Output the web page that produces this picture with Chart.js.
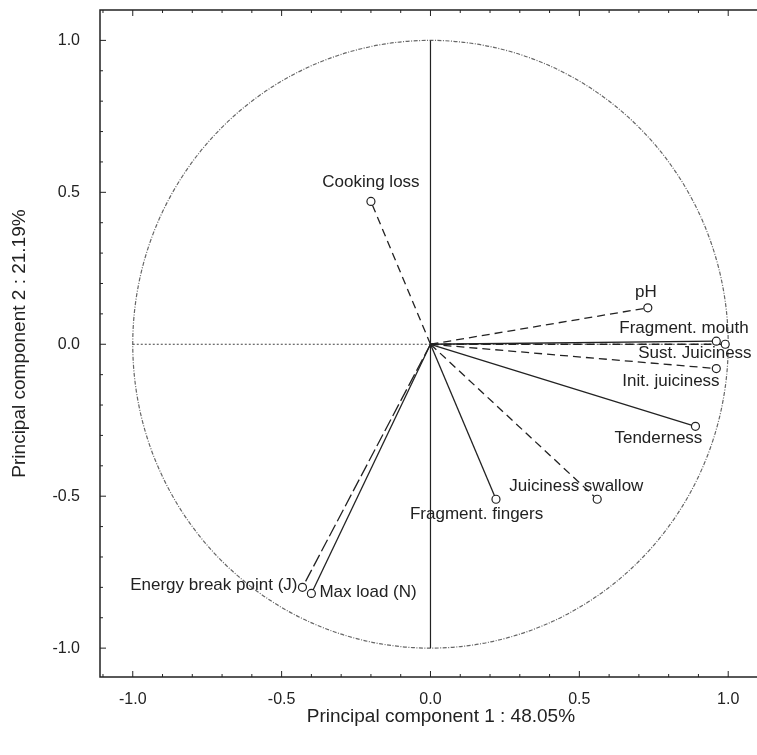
<!DOCTYPE html>
<html>
<head>
<meta charset="utf-8">
<script src="https://cdn.jsdelivr.net/npm/chart.js@4.4.1/dist/chart.umd.min.js"></script>
<style>
  html, body { margin: 0; padding: 0; background: #fff; overflow: hidden; }
  /* the original figure is cropped on the right, so the canvas runs past the window */
  #wrap { width: 757px; height: 755px; overflow: hidden; }
</style>
</head>
<body>
<div id="wrap"><canvas id="pcaChart" width="787" height="755"></canvas></div>
<script>
// loadings
const variables = [
  "Cooking loss", "pH", "Fragment. mouth", "Sust. Juiciness", "Init. juiciness",
  "Tenderness", "Juiciness swallow", "Fragment. fingers", "Energy break point (J)", "Max load (N)"
];
const pc1 = [-0.20, 0.73, 0.96, 0.99, 0.96, 0.89, 0.56, 0.22, -0.43, -0.40];
const pc2 = [0.47, 0.12, 0.01, 0.00, -0.08, -0.27, -0.51, -0.51, -0.80, -0.82];

const axisTicks = [-1.0, -0.5, 0.0, 0.5, 1.0];
const minorTicks = [-1.1, -1.0, -0.9, -0.8, -0.7, -0.6, -0.5, -0.4, -0.3, -0.2, -0.1, 0.0,
                    0.1, 0.2, 0.3, 0.4, 0.5, 0.6, 0.7, 0.8, 0.9, 1.0, 1.1];

const xTitle = "Principal component 1 : 48.05%";
const yTitle = "Principal component 2 : 21.19%";

// which vectors are dashed
const dashedVars = ["Cooking loss", "pH", "Sust. Juiciness", "Init. juiciness",
                    "Juiciness swallow", "Energy break point (J)"];

// where each label sits relative to its point (pixels)
const labelPlace = {
  "Cooking loss": { dx: 0, dy: -19, align: "center" },
  "pH": { dx: -2, dy: -15, align: "center" },
  "Fragment. mouth": { dx: -97, dy: -13, align: "left" },
  "Sust. Juiciness": { dx: -87, dy: 9, align: "left" },
  "Init. juiciness": { dx: -94, dy: 13, align: "left" },
  "Tenderness": { dx: -81, dy: 12, align: "left" },
  "Juiciness swallow": { dx: -88, dy: -13, align: "left" },
  "Fragment. fingers": { dx: -86, dy: 15, align: "left" },
  "Energy break point (J)": { dx: -5, dy: -2, align: "right" },
  "Max load (N)": { dx: 8, dy: -1, align: "left" }
};

const FONT = '"Liberation Sans", Arial, sans-serif';
const INK = "#222";

// one line dataset per variable, origin -> loading
const datasets = variables.map((name, i) => {
  const dashed = dashedVars.includes(name);
  return {
    label: name,
    data: [{ x: 0, y: 0 }, { x: pc1[i], y: pc2[i] }],
    borderColor: INK,
    borderWidth: 1.3,
    borderDash: dashed ? (name === "Energy break point (J)" ? [13, 4] : [8, 5]) : [],
    pointRadius: [0, 4],
    pointBackgroundColor: "#fff",
    pointBorderColor: INK,
    pointBorderWidth: 1.2,
    showLine: true,
    fill: false,
    tension: 0
  };
});

// unit circle, zero lines and frame with inward ticks
const decorPlugin = {
  id: "decor",
  beforeDatasetsDraw(chart) {
    const { ctx, scales: { x, y } } = chart;
    const cx = x.getPixelForValue(0), cy = y.getPixelForValue(0);
    const rx = x.getPixelForValue(1) - cx, ry = cy - y.getPixelForValue(1);
    ctx.save();
    // circle
    ctx.strokeStyle = "#666";
    ctx.lineWidth = 1.2;
    ctx.setLineDash([4, 1.5, 1, 1.5]);
    ctx.beginPath();
    ctx.ellipse(cx, cy, rx, ry, 0, 0, Math.PI * 2);
    ctx.stroke();
    // horizontal dotted zero line
    ctx.strokeStyle = "#444";
    ctx.lineWidth = 1;
    ctx.setLineDash([2, 2]);
    ctx.beginPath();
    ctx.moveTo(x.getPixelForValue(-1), cy);
    ctx.lineTo(x.getPixelForValue(1), cy);
    ctx.stroke();
    // vertical solid zero line
    ctx.setLineDash([]);
    ctx.strokeStyle = INK;
    ctx.lineWidth = 1.2;
    ctx.beginPath();
    ctx.moveTo(cx, y.getPixelForValue(1));
    ctx.lineTo(cx, y.getPixelForValue(-1));
    ctx.stroke();
    ctx.restore();
  },
  afterDatasetsDraw(chart) {
    const { ctx, scales: { x, y } } = chart;
    ctx.save();
    ctx.fillStyle = INK;
    ctx.font = "17px " + FONT;
    ctx.textBaseline = "middle";
    variables.forEach((name, i) => {
      const p = labelPlace[name];
      ctx.textAlign = p.align;
      ctx.fillText(name, x.getPixelForValue(pc1[i]) + p.dx, y.getPixelForValue(pc2[i]) + p.dy);
    });
    ctx.restore();
  },
  afterDraw(chart) {
    const { ctx, chartArea: a, scales: { x, y } } = chart;
    ctx.save();
    ctx.strokeStyle = INK;
    ctx.lineWidth = 1.5;
    ctx.strokeRect(a.left, a.top, a.right - a.left, a.bottom - a.top);
    ctx.lineWidth = 1;
    minorTicks.forEach(v => {
      const major = axisTicks.some(t => Math.abs(t - v) < 1e-9);
      const len = major ? 6 : 3;
      const px = x.getPixelForValue(v);
      ctx.beginPath();
      ctx.moveTo(px, a.bottom); ctx.lineTo(px, a.bottom - len);
      ctx.moveTo(px, a.top); ctx.lineTo(px, a.top + len);
      ctx.stroke();
      const py = y.getPixelForValue(v);
      if (py > a.top && py < a.bottom) {
        ctx.beginPath();
        ctx.moveTo(a.left, py); ctx.lineTo(a.left + len, py);
        ctx.stroke();
      }
    });
    ctx.restore();
  }
};

function fixedTicks(scale) {
  scale.ticks = axisTicks.map(v => ({ value: v }));
}

new Chart(document.getElementById("pcaChart"), {
  type: "scatter",
  data: { datasets },
  options: {
    responsive: false,
    animation: false,
    layout: { padding: { top: 10, right: 0, left: 0, bottom: 0 } },
    plugins: {
      legend: { display: false },
      tooltip: { enabled: false }
    },
    scales: {
      x: {
        type: "linear",
        min: -1.11,
        max: 1.18,
        afterBuildTicks: fixedTicks,
        afterFit(scale) {
          scale.height = 78;
          scale.paddingLeft = 0;
          scale.paddingRight = 0;
        },
        grid: { display: false, drawTicks: false },
        border: { display: false },
        ticks: {
          padding: 13,
          color: INK,
          font: { family: FONT, size: 16 },
          callback: v => v.toFixed(1)
        },
        title: {
          display: true,
          text: xTitle,
          color: INK,
          font: { family: FONT, size: 19 },
          padding: { top: 4, bottom: 27 }
        }
      },
      y: {
        type: "linear",
        min: -1.095,
        max: 1.1,
        afterBuildTicks: fixedTicks,
        afterFit(scale) {
          scale.width = 100;
          scale.paddingTop = 0;
          scale.paddingBottom = 0;
        },
        grid: { display: false, drawTicks: false },
        border: { display: false },
        ticks: {
          padding: 20,
          color: INK,
          font: { family: FONT, size: 16 },
          callback: v => v.toFixed(1)
        },
        title: {
          display: true,
          text: yTitle,
          color: INK,
          font: { family: FONT, size: 19 },
          padding: { top: 8, bottom: 4 }
        }
      }
    }
  },
  plugins: [decorPlugin]
});
</script>
</body>
</html>
